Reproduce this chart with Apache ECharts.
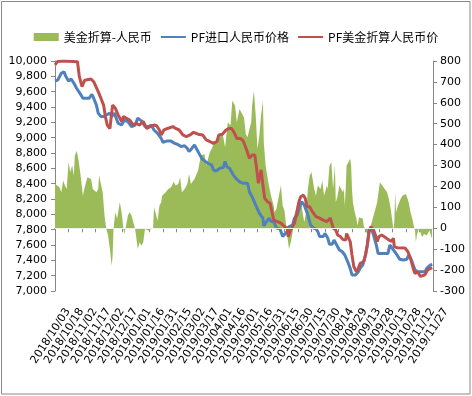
<!DOCTYPE html>
<html>
<head>
<meta charset="utf-8">
<script src="https://cdn.jsdelivr.net/npm/echarts@6/dist/echarts.min.js"></script>
<style>
html, body { margin: 0; padding: 0; background: #fff; }
#chart { width: 472px; height: 396px; }
</style>
</head>
<body>
<div id="chart"></div>
<script>
// 横轴刻度，每 15 天一个
const dateTicks = ['2018/10/03', '2018/10/18', '2018/11/02', '2018/11/17', '2018/12/02', '2018/12/17',
  '2019/01/01', '2019/01/16', '2019/01/31', '2019/02/15', '2019/03/02', '2019/03/17', '2019/04/01',
  '2019/04/16', '2019/05/01', '2019/05/16', '2019/05/31', '2019/06/15', '2019/06/30', '2019/07/15',
  '2019/07/30', '2019/08/14', '2019/08/29', '2019/09/13', '2019/09/28', '2019/10/13', '2019/10/28',
  '2019/11/12', '2019/11/27']

// 距 2018/10/03 的天数
const importDays = [0, 3, 7, 10, 12, 15, 18, 21, 24, 26, 29, 31, 38, 41, 43, 46, 48, 51, 54, 57, 61, 63, 66, 70, 74, 77, 81, 85, 89, 92, 94, 97, 100, 104, 107, 110, 114, 118, 120, 124, 129, 133, 136, 140, 144, 147, 149, 152, 155, 158, 160, 163, 167, 170, 174, 176, 179, 183, 187, 189, 191, 194, 196, 198, 201, 205, 209, 214, 216, 219, 223, 227, 231, 232, 235, 238, 240, 243, 246, 250, 253, 255, 258, 260, 264, 266, 269, 272, 274, 277, 279, 281, 284, 287, 290, 292, 294, 298, 300, 303, 305, 308, 310, 313, 316, 319, 322, 326, 328, 330, 334, 337, 339, 342, 345, 347, 349, 352, 354, 357, 359, 370, 372, 374, 376, 380, 383, 387, 391, 393, 396, 398, 400, 403, 411, 413, 416, 419]
const importPrice = [9740, 9750, 9840, 9860, 9800, 9740, 9765, 9710, 9645, 9645, 9555, 9515, 9515, 9565, 9515, 9425, 9320, 9275, 9275, 9295, 9320, 9275, 9320, 9190, 9165, 9230, 9210, 9145, 9165, 9255, 9275, 9210, 9145, 9145, 9165, 9100, 9055, 8990, 8940, 8955, 8955, 8925, 8915, 8885, 8895, 8860, 8820, 8860, 8905, 8840, 8795, 8730, 8690, 8665, 8645, 8580, 8565, 8600, 8610, 8690, 8620, 8600, 8580, 8515, 8470, 8425, 8405, 8405, 8295, 8230, 8120, 8015, 7950, 7850, 7905, 7950, 7905, 7905, 7820, 7810, 7710, 7710, 7775, 7840, 7860, 7950, 7990, 8100, 8165, 8120, 8100, 7990, 7860, 7820, 7810, 7775, 7710, 7710, 7750, 7690, 7610, 7610, 7665, 7600, 7535, 7515, 7470, 7360, 7295, 7210, 7210, 7250, 7295, 7340, 7470, 7600, 7795, 7795, 7730, 7600, 7490, 7490, 7600, 7620, 7535, 7470, 7415, 7405, 7415, 7470, 7405, 7340, 7275, 7250, 7250, 7295, 7330, 7350]

const usdDays = [0, 3, 10, 20, 25, 27, 30, 33, 40, 43, 48, 51, 54, 56, 58, 61, 64, 67, 70, 74, 76, 79, 83, 87, 90, 94, 98, 102, 106, 110, 113, 116, 118, 121, 125, 131, 134, 138, 142, 146, 150, 154, 156, 159, 164, 168, 172, 176, 180, 182, 186, 190, 193, 196, 199, 202, 206, 209, 213, 216, 219, 222, 224, 226, 228, 229, 231, 233, 236, 239, 241, 243, 247, 251, 255, 258, 259, 262, 266, 269, 271, 273, 276, 278, 280, 283, 286, 290, 294, 298, 302, 306, 308, 309, 312, 314, 317, 320, 323, 324, 326, 328, 330, 332, 335, 337, 339, 343, 345, 347, 349, 351, 354, 356, 358, 360, 363, 365, 368, 371, 374, 376, 377, 380, 389, 392, 395, 398, 400, 403, 406, 408, 411, 414, 419]
const usdPrice = [9950, 9995, 10000, 9995, 9990, 9800, 9665, 9750, 9765, 9730, 9600, 9515, 9425, 9275, 9165, 9120, 9425, 9385, 9300, 9210, 9275, 9255, 9230, 9165, 9185, 9165, 9210, 9120, 9145, 9165, 9155, 9100, 9035, 9100, 9120, 9145, 9120, 9100, 9035, 9015, 9035, 9070, 9055, 9045, 9035, 8970, 8950, 8925, 8950, 9035, 9045, 9100, 9120, 9120, 9070, 8990, 8990, 8960, 8840, 8730, 8775, 8775, 8600, 8405, 8425, 8580, 8385, 8210, 8165, 8145, 8035, 7925, 7905, 7885, 7840, 7820, 7710, 7795, 7885, 8035, 8165, 8230, 8250, 8210, 8100, 8100, 8035, 7970, 7950, 7925, 7905, 7950, 7925, 7820, 7795, 7730, 7710, 7670, 7665, 7750, 7775, 7645, 7470, 7320, 7250, 7295, 7360, 7380, 7470, 7600, 7775, 7840, 7795, 7730, 7645, 7710, 7730, 7710, 7690, 7665, 7645, 7690, 7580, 7565, 7560, 7515, 7425, 7295, 7230, 7250, 7190, 7165, 7210, 7275, 7305]

const spreadDays = [0, 2, 5, 7, 9, 11, 13, 15, 17, 19, 21, 22, 24, 26, 28, 31, 33, 36, 38, 40, 42, 43, 46, 48, 49, 51, 53, 55, 57, 59, 61, 63, 64, 65, 67, 69, 72, 74, 76, 77, 79, 81, 83, 85, 87, 89, 90, 92, 94, 96, 98, 100, 104, 106, 109, 110, 112, 114, 116, 118, 119, 123, 126, 129, 132, 134, 137, 139, 141, 144, 147, 149, 151, 155, 159, 162, 166, 168, 172, 174, 177, 181, 184, 186, 189, 192, 195, 197, 200, 202, 205, 207, 210, 212, 214, 216, 218, 219, 221, 223, 225, 227, 229, 231, 232, 234, 237, 240, 243, 244, 246, 247, 249, 251, 253, 255, 256, 258, 260, 262, 264, 266, 268, 270, 271, 273, 275, 277, 279, 281, 283, 285, 286, 288, 290, 292, 295, 297, 299, 302, 303, 305, 307, 309, 311, 312, 314, 316, 318, 320, 321, 322, 323, 324, 326, 328, 329, 330, 331, 333, 335, 336, 338, 340, 342, 343, 345, 347, 349, 350, 352, 354, 356, 358, 360, 361, 363, 365, 367, 369, 371, 373, 375, 376, 377, 378, 379, 381, 384, 386, 388, 390, 391, 393, 395, 397, 399, 400, 401, 402, 404, 406, 408, 410, 412, 413, 416, 417, 419]
const spreadValue = [212, 220, 196, 172, 228, 204, 188, 316, 268, 300, 252, 347, 371, 330, 268, 156, 196, 244, 244, 236, 188, 188, 172, 188, 252, 260, 172, 61, -3, -35, -99, -179, -131, -3, 77, 45, 124, 77, -3, -27, 13, 61, 77, 61, 29, -3, -35, -99, -67, -83, -67, -3, -11, -19, 0, 100, 108, 37, 108, 124, 156, 172, 188, 196, 223, 204, 212, 244, 172, 188, 212, 260, 212, 236, 276, 347, 355, 300, 363, 379, 411, 427, 443, 459, 387, 507, 491, 610, 587, 507, 571, 579, 530, 450, 435, 475, 507, 587, 658, 539, 379, 443, 539, 610, 411, 300, 220, 156, 108, 77, 92, 116, 116, 204, 108, 84, 45, -35, -99, -67, -19, 61, 100, 124, 124, 140, 77, 29, 77, 188, 252, 268, 260, 188, 156, 204, 188, 228, 156, 204, 188, 300, 316, 188, 300, 124, 156, 204, 188, 172, 188, 108, 188, 300, 316, 332, 300, 188, 124, 77, 45, 13, 53, 48, 45, 13, -11, -27, -11, -3, 29, 61, 92, 124, 188, 220, 212, 196, 188, 172, 140, 92, 29, -11, 29, 172, 77, 108, 140, 156, 148, 164, 156, 124, 77, 45, 5, -11, -67, -35, -3, -19, -43, -27, -19, -35, -11, -3, -51]

const pairs = (days, vals) => days.map((d, i) => [d, vals[i]])

const axisColor = '#868686'
const labelFont = 'DejaVu Sans'

const myChart = echarts.init(document.getElementById('chart'))
const option = {
  animation: false,
  graphic: [{
    type: 'rect',
    silent: true,
    shape: { x: 1.5, y: 1.5, width: 468.5, height: 392.5 },
    style: { fill: null, stroke: '#898989', lineWidth: 1 }
  }],
  legend: {
    top: 26,
    left: 'center',
    itemWidth: 25,
    itemHeight: 8,
    itemGap: 8,
    textStyle: { fontSize: 12, color: '#000', fontFamily: 'Noto Sans CJK SC' },
    data: [
      { name: '美金折算-人民币', icon: 'rect' },
      { name: 'PF进口人民币价格', itemStyle: { opacity: 0 } },
      { name: 'PF美金折算人民币价', itemStyle: { opacity: 0 } }
    ]
  },
  grid: { left: 55, right: 39, top: 61, bottom: 105 },
  xAxis: {
    type: 'value',
    min: 0,
    max: 420,
    interval: 15,
    splitLine: { show: false },
    axisLine: { lineStyle: { color: axisColor } },
    axisTick: { length: 4, lineStyle: { color: axisColor } },
    axisLabel: {
      rotate: 57,
      color: '#000',
      fontSize: 11,
      fontFamily: labelFont,
      margin: 10,
      verticalAlign: 'top',
      padding: [10, 0, 0, 0],
      showMinLabel: true,
      showMaxLabel: true,
      hideOverlap: false,
      formatter(val) {
        return dateTicks[Math.round(val / 15)]
      }
    }
  },
  yAxis: [{
    type: 'value',
    position: 'left',
    min: 7000,
    max: 10000,
    interval: 200,
    splitLine: { show: false },
    axisLine: { show: true, lineStyle: { color: axisColor } },
    axisTick: { show: true, length: 4, lineStyle: { color: axisColor } },
    axisLabel: { color: '#000', fontSize: 11, fontFamily: labelFont, margin: 8, showMinLabel: true, showMaxLabel: true }
  }, {
    type: 'value',
    position: 'right',
    min: -300,
    max: 800,
    interval: 100,
    splitLine: { show: false },
    axisLine: { show: true, lineStyle: { color: axisColor } },
    axisTick: { show: true, length: 4, lineStyle: { color: axisColor } },
    axisLabel: { color: '#000', fontSize: 11, fontFamily: labelFont, margin: 7, showMinLabel: true, showMaxLabel: true }
  }],
  series: [{
    name: '美金折算-人民币',
    type: 'line',
    yAxisIndex: 1,
    symbol: 'none',
    data: pairs(spreadDays, spreadValue),
    itemStyle: { color: '#9BBB59' },
    lineStyle: { width: 0 },
    areaStyle: { color: '#9BBB59', opacity: 1 },
    markLine: {
      silent: true,
      symbol: ['none', 'none'],
      label: { show: false },
      lineStyle: { color: '#eef3e4', width: 1, type: 'solid' },
      data: [{ yAxis: 0 }]
    }
  }, {
    name: 'PF进口人民币价格',
    type: 'line',
    yAxisIndex: 0,
    symbol: 'none',
    data: pairs(importDays, importPrice),
    itemStyle: { color: '#4F81BD' },
    lineStyle: { width: 3, color: '#4F81BD' }
  }, {
    name: 'PF美金折算人民币价',
    type: 'line',
    yAxisIndex: 0,
    symbol: 'none',
    data: pairs(usdDays, usdPrice),
    itemStyle: { color: '#C0504D' },
    lineStyle: { width: 3, color: '#C0504D' }
  }]
}
myChart.setOption(option)
</script>
</body>
</html>
